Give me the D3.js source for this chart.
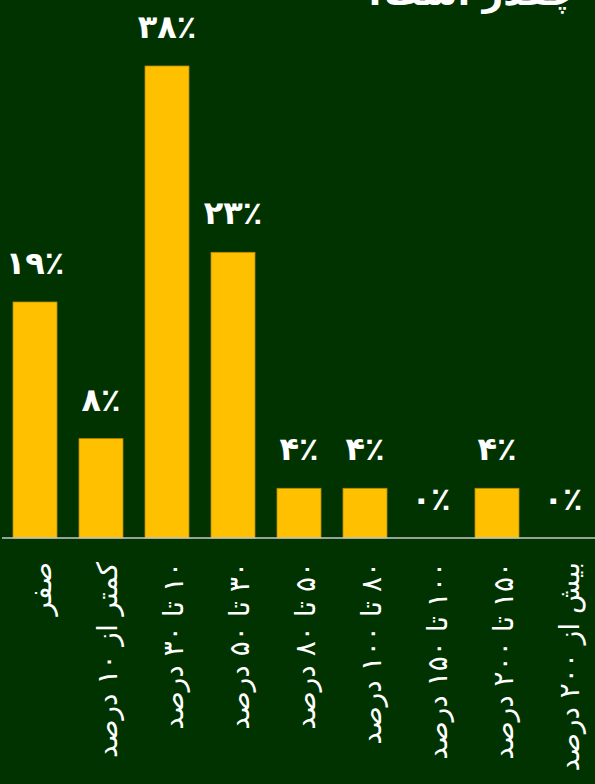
<!DOCTYPE html>
<html>
<head>
<meta charset="utf-8">
<script src="https://cdn.jsdelivr.net/npm/d3@7/dist/d3.min.js"></script>
<style>
  html, body { margin: 0; padding: 0; background: #003300; }
  svg { display: block; }
  text { font-family: "DejaVu Sans", sans-serif; fill: #ffffff; }
</style>
</head>
<body>
<div id="chart"></div>
<script>
// Share of respondents per range of change
const categories = [
  "صفر",
  "کمتر از ۱۰ درصد",
  "۱۰ تا ۳۰ درصد",
  "۳۰ تا ۵۰ درصد",
  "۵۰ تا ۸۰ درصد",
  "۸۰ تا ۱۰۰ درصد",
  "۱۰۰ تا ۱۵۰ درصد",
  "۱۵۰ تا ۲۰۰ درصد",
  "بیش از ۲۰۰ درصد"
];
const values = [19, 8, 38, 23, 4, 4, 0, 4, 0];
const titleText = "چقدر است؟";

const W = 595, H = 784;
const baseY = 538;

const svg = d3.select("#chart").append("svg")
  .attr("width", W).attr("height", H);

svg.append("rect").attr("width", W).attr("height", H).attr("fill", "#003300");

const toFa = s => String(s).replace(/\d/g, d => "۰۱۲۳۴۵۶۷۸۹"[d]);

const x = d3.scaleBand()
  .domain(categories)
  .range([2, 596])
  .paddingInner(1 / 3)
  .paddingOuter(1 / 6);

const y = d3.scaleLinear()
  .domain([0, 38])
  .range([baseY, 66]);

// title (runs off the top edge)
svg.append("text")
  .attr("x", 576).attr("y", 5)
  .attr("direction", "rtl")
  .attr("text-anchor", "start")
  .attr("font-size", 36)
  .attr("font-weight", "bold")
  .text(titleText);

// bars
svg.append("g").selectAll("rect")
  .data(values)
  .join("rect")
  .attr("x", (d, i) => x(categories[i]))
  .attr("width", x.bandwidth())
  .attr("y", d => y(d))
  .attr("height", d => baseY - y(d))
  .attr("fill", "#FFC000")
  .attr("stroke", "#B38A00")
  .attr("stroke-width", 0.8)
  .attr("display", d => d > 0 ? null : "none");

// value labels
svg.append("g").selectAll("text")
  .data(values)
  .join("text")
  .attr("x", (d, i) => x(categories[i]) + x.bandwidth() / 2)
  .attr("y", d => y(d) - 28)
  .attr("text-anchor", "middle")
  .attr("font-size", 32)
  .attr("font-weight", "bold")
  .text(d => toFa(d) + "٪");

// baseline
const axis = d3.axisBottom(x).tickSize(0).tickFormat("");
const gAxis = svg.append("g").attr("transform", `translate(0,${baseY})`).call(axis);
gAxis.select(".domain").attr("stroke", "#c8c8c8").attr("stroke-width", 1.5)
  .attr("d", `M2,0H595`);

// category labels, rotated
svg.append("g").selectAll("text")
  .data(categories)
  .join("text")
  .attr("transform", d => `translate(${x(d) + x.bandwidth() / 2 + 16},562) rotate(-90)`)
  .attr("direction", "rtl")
  .attr("text-anchor", "start")
  .attr("font-size", 28)
  .text(d => d);
</script>
</body>
</html>
